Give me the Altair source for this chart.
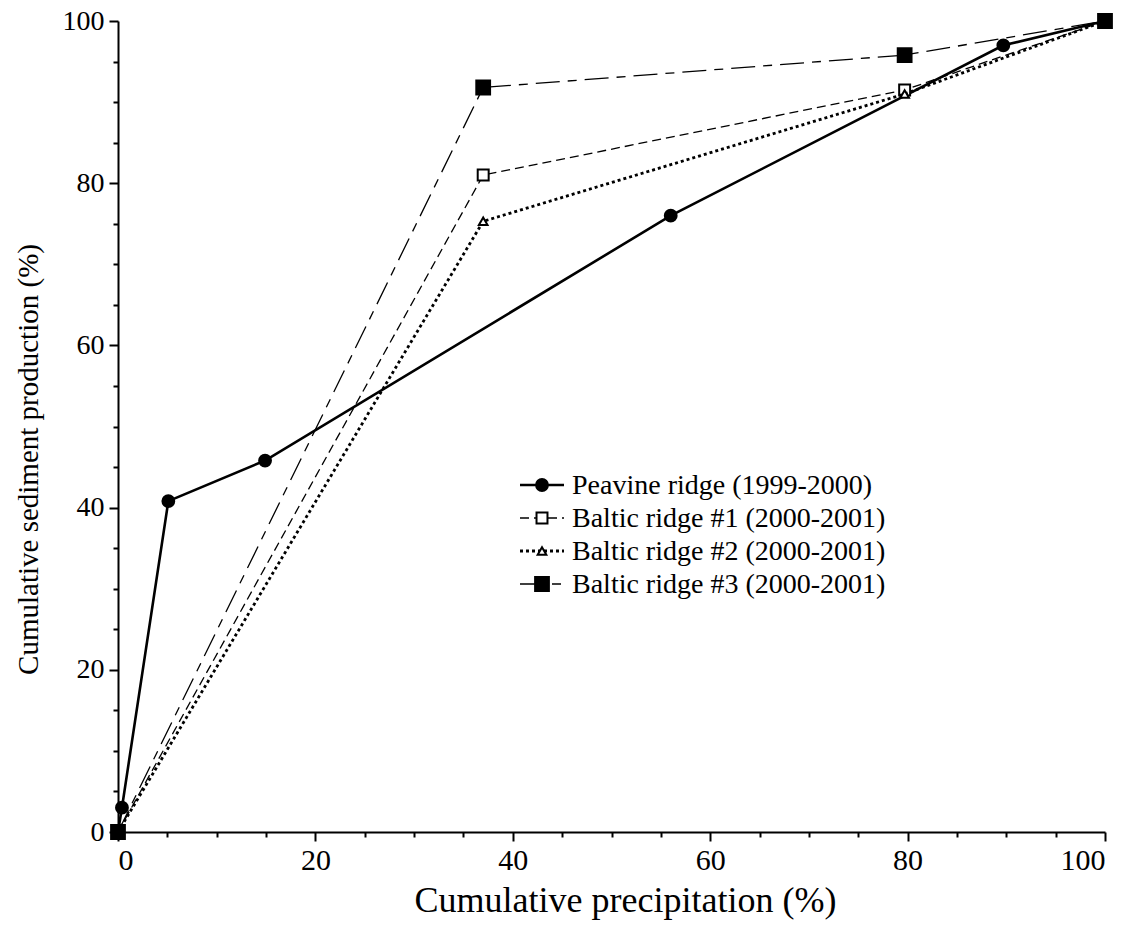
import altair as alt
import pandas as pd

# ---- data ----
peavine_x = [0, 0.4, 5.1, 14.9, 56.0, 89.7, 100]
peavine_y = [0, 3.0, 40.8, 45.8, 76.0, 97.0, 100]
baltic1_x = [0, 37.0, 79.7, 100]
baltic1_y = [0, 81.0, 91.5, 100]
baltic2_x = [0, 37.0, 79.7, 100]
baltic2_y = [0, 75.3, 91.0, 100]
baltic3_x = [0, 37.0, 79.7, 100]
baltic3_y = [0, 91.8, 95.8, 100]

labels = [
    "Peavine ridge (1999-2000)",
    "Baltic ridge #1 (2000-2001)",
    "Baltic ridge #2 (2000-2001)",
    "Baltic ridge #3 (2000-2001)",
]
tick_values = list(range(0, 101, 5))

FONT = "Liberation Serif"

xscale = alt.Scale(domain=[0, 100], nice=False, zero=False)
yscale = alt.Scale(domain=[0, 100], nice=False, zero=False)

tick_cond = {"condition": {"test": "datum.value % 20 === 0", "value": 9}, "value": 5}
label_expr = "datum.value % 20 === 0 ? datum.label : ''"

xaxis = alt.Axis(
    values=tick_values, labelExpr=label_expr, tickSize=tick_cond,
    labelFontSize=30,
    title="Cumulative precipitation (%)", titlePadding=8, labelPadding=4,
    titleFontSize=36, titleX=507,
)
yaxis = alt.Axis(
    values=tick_values, labelExpr=label_expr, tickSize=tick_cond,
    labelFontSize=28,
    title="Cumulative sediment production (%)", titlePadding=19, labelPadding=5,
    titleFontSize=29, titleY=438,
)


def enc():
    return dict(
        x=alt.X("x:Q", scale=xscale, axis=xaxis),
        y=alt.Y("y:Q", scale=yscale, axis=yaxis),
    )


def series(xs, ys, dash, width, shape, filled, size):
    df = pd.DataFrame({"x": xs, "y": ys})
    line_kw = dict(color="black", strokeWidth=width)
    if dash:
        line_kw["strokeDash"] = dash
    line = alt.Chart(df).mark_line(**line_kw).encode(**enc())
    pt = alt.Chart(df).mark_point(
        shape=shape, filled=True, size=size,
        fill="black" if filled else "white", stroke="black",
        strokeWidth=2, opacity=1,
    ).encode(**enc())
    return line, pt


styles = [
    (peavine_x, peavine_y, None, 2.6, "circle", True, 140),
    (baltic1_x, baltic1_y, [9, 5], 1.3, "square", False, 120),
    (baltic2_x, baltic2_y, [3, 3], 2.8, "triangle-up", False, 75),
    (baltic3_x, baltic3_y, [24, 8, 9, 8], 1.3, "square", True, 190),
]

layers = []
for i, (xs, ys, dash, w, shape, filled, size) in enumerate(styles):
    ln, pt = series(xs, ys, dash, w, shape, filled, size)
    layers += [ln, pt]

# ---- legend (drawn in pixel space inside the plot) ----
one = pd.DataFrame({"k": [0]})
leg_y0 = 464
leg_dy = 33
for i, (xs, ys, dash, w, shape, filled, size) in enumerate(styles):
    yy = leg_y0 + i * leg_dy
    rk = dict(color="black", strokeWidth=w)
    if dash:
        rk["strokeDash"] = dash
    layers.append(alt.Chart(one).mark_rule(**rk).encode(
        x=alt.value(402), x2=alt.value(446), y=alt.value(yy)))
    layers.append(alt.Chart(one).mark_point(
        shape=shape, filled=True, size=size,
        fill="black" if filled else "white", stroke="black",
        strokeWidth=2, opacity=1,
    ).encode(x=alt.value(424), y=alt.value(yy)))
    layers.append(alt.Chart(one).mark_text(
        align="left", baseline="middle", font=FONT, fontSize=28, color="black",
    ).encode(x=alt.value(454), y=alt.value(yy + 1), text=alt.value(labels[i])))

chart = alt.layer(*layers).properties(
    width=987, height=811,
    autosize=alt.AutoSizeParams(type="none"),
    padding={"left": 118, "top": 21, "right": 34, "bottom": 107},
    background="white",
).configure_view(stroke=None).configure_axis(
    grid=False,
    domainColor="black", domainWidth=2,
    tickColor="black", tickWidth=2,
    labelFont=FONT, labelColor="black",
    titleFont=FONT, titleFontWeight="normal", titleColor="black",
    labelOverlap=False,
)

chart.save("out.html", embed_options={"renderer": "svg", "actions": False})
